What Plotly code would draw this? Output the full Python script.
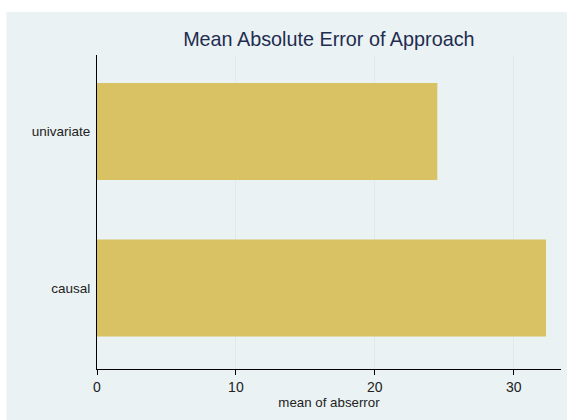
import plotly.graph_objects as go

categories = ["causal", "univariate"]
values = [32.33, 24.5]
x_ticks = [0, 10, 20, 30]

W, H = 567, 420
L, R, T, B = 97, 560.7, 55, 369

fig = go.Figure()
fig.add_trace(go.Bar(
    x=values, y=categories, orientation="h",
    marker=dict(color="#D8C264", line=dict(width=0)),
    width=0.62,
))

fig.update_layout(
    width=W, height=H,
    margin=dict(l=L, r=W - R, t=T, b=H - B, pad=0),
    paper_bgcolor="white",
    plot_bgcolor="white",
    showlegend=False,
    font=dict(family="Liberation Sans, Arial, sans-serif", color="#222222"),
    title=dict(text="Mean Absolute Error of Approach", x=(L + R) / 2 / W, xanchor="center",
               y=1 - 39 / H, yanchor="middle",
               font=dict(size=19.8, color="#1F2D50")),
    shapes=[dict(type="rect", xref="paper", yref="paper", layer="below",
                 x0=(6.5 - L) / (R - L), x1=(W - L) / (R - L) + 0.01,
                 y0=-(H - B + 2) / (B - T), y1=(B - 12) / (B - T),
                 fillcolor="#EAF2F3", line=dict(width=0))],
)

fig.update_xaxes(
    range=[0, (R - L) / 13.88], tickvals=x_ticks, ticktext=[str(v) for v in x_ticks],
    showgrid=True, gridcolor="#E0E9EE", gridwidth=1,
    showline=True, linecolor="black", linewidth=1,
    ticks="outside", ticklen=5, tickcolor="black", tickwidth=1,
    tickfont=dict(size=14, color="#222222"),
    title=dict(text="mean of abserror", font=dict(size=13.3, color="#222222"), standoff=2),
    zeroline=False,
)
fig.update_yaxes(
    range=[-0.518, 1.489], categoryorder="array", categoryarray=categories,
    showgrid=False, showline=True, linecolor="black", linewidth=1,
    ticks="", tickfont=dict(size=13.5, color="#222222"), ticklabelstandoff=3,
    zeroline=False,
)

fig.write_html("out.html", config={"displayModeBar": False},
               post_script="document.body.style.margin='0px';")
